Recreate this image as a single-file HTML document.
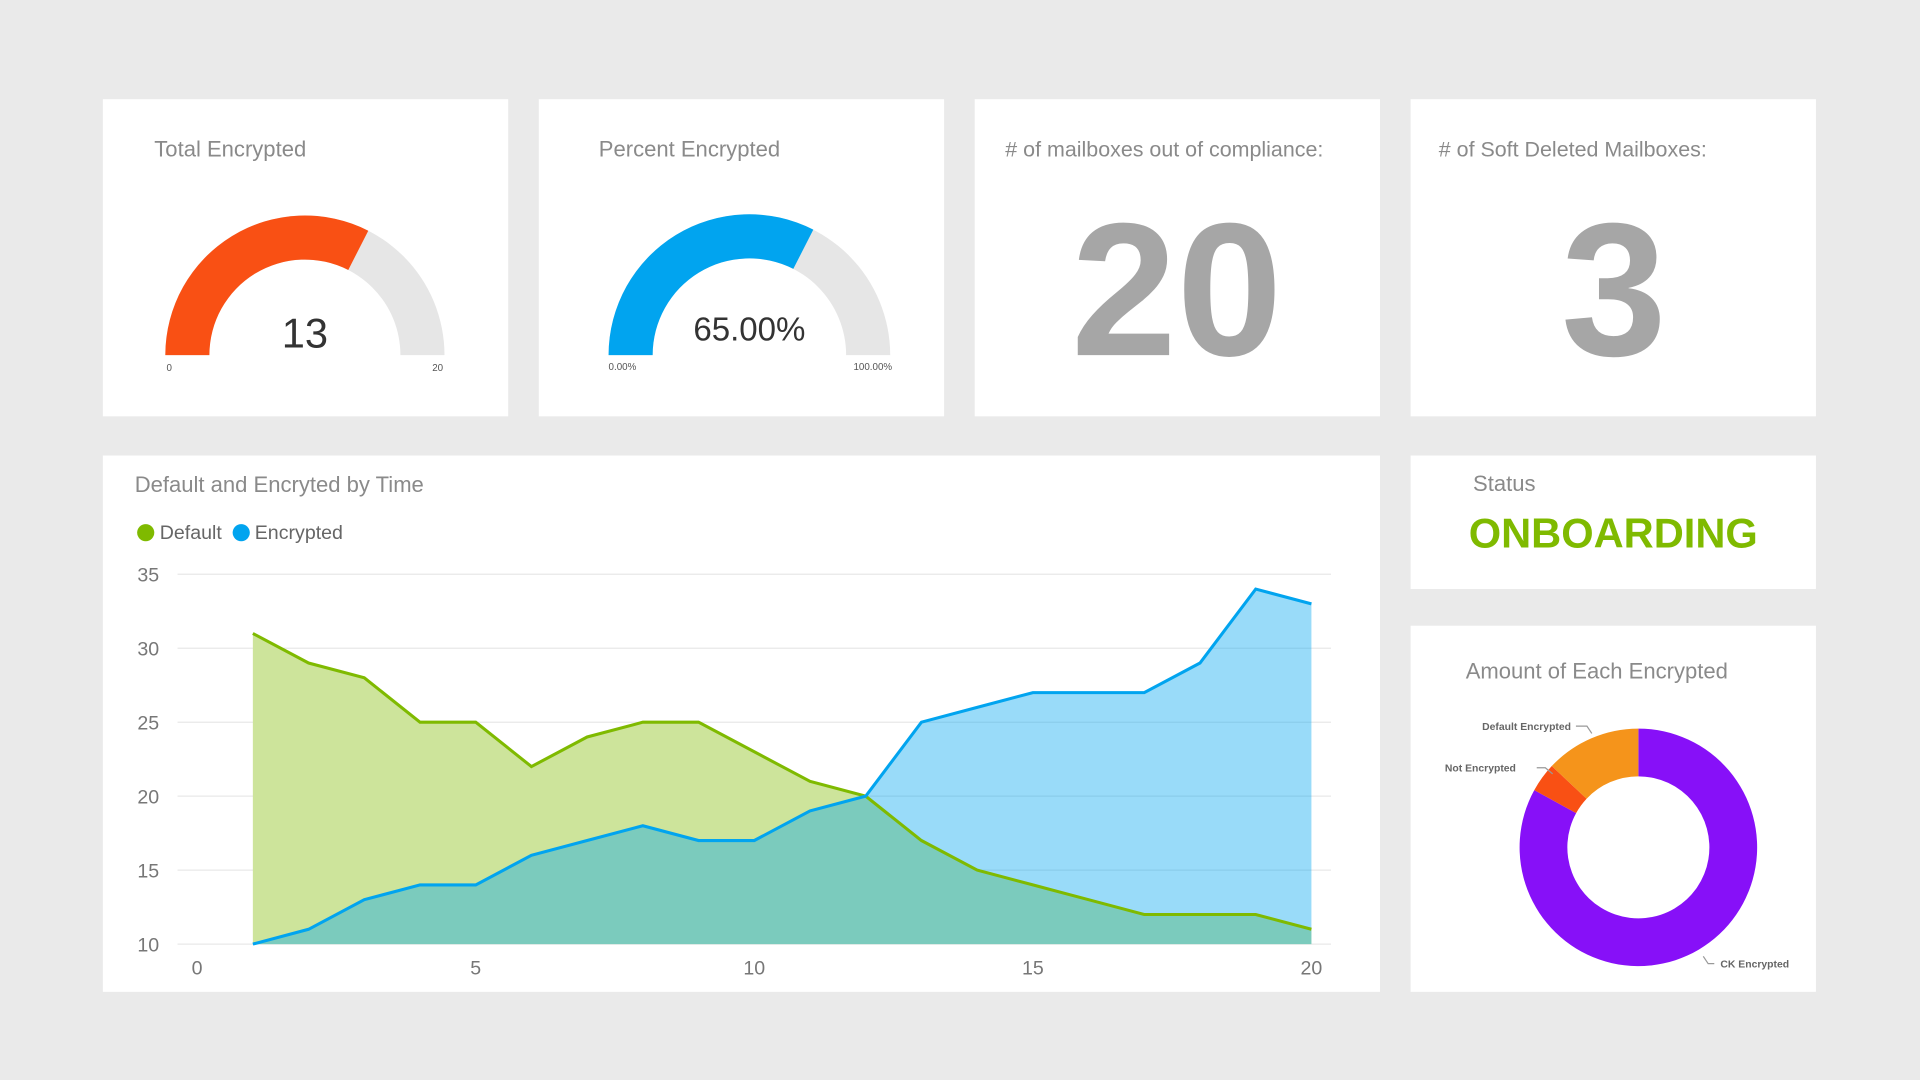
<!DOCTYPE html>
<html><head><meta charset="utf-8"><style>
html,body{margin:0;padding:0;width:1920px;height:1080px;overflow:hidden;background:#eaeaea;font-family:"Liberation Sans",sans-serif}
#root{position:absolute;left:0;top:0;width:1568px;height:882px;transform:scale(1.22449);transform-origin:0 0}
.card{position:absolute;background:#fff}
.t{position:absolute;color:#8a8a8a;font-size:18px;white-space:nowrap}
</style></head><body>
<div id="root">
<div class="card" style="left:84px;top:81px;width:331px;height:259px">
 <div class="t" style="left:42px;top:31px">Total Encrypted</div>
 <svg width="331" height="259" style="position:absolute;left:0;top:0"><g id="g1"></g>
 <text x="165" y="203" font-size="34" text-anchor="middle" fill="#333">13</text>
 <text x="52" y="222" font-size="8" fill="#555">0</text>
 <text x="269" y="222" font-size="8" fill="#555">20</text></svg>
</div>
<div class="card" style="left:440px;top:81px;width:331px;height:259px">
 <div class="t" style="left:49px;top:31px">Percent Encrypted</div>
 <svg width="331" height="259" style="position:absolute;left:0;top:0"><g id="g2"></g>
 <text x="172" y="197" font-size="27" text-anchor="middle" fill="#333">65.00%</text>
 <text x="57" y="221" font-size="8" fill="#555">0.00%</text>
 <text x="257" y="221" font-size="8" fill="#555">100.00%</text></svg>
</div>
<div class="card" style="left:796px;top:81px;width:331px;height:259px">
 <div class="t" style="left:25px;top:31px;font-size:17.5px"># of mailboxes out of compliance:</div>
 <svg width="331" height="259" style="position:absolute;left:0;top:0"><text x="165" y="209" font-size="155" font-weight="bold" fill="#a6a6a6" text-anchor="middle">20</text></svg>
</div>
<div class="card" style="left:1152px;top:81px;width:331px;height:259px">
 <div class="t" style="left:23px;top:31px;font-size:17.5px"># of Soft Deleted Mailboxes:</div>
 <svg width="331" height="259" style="position:absolute;left:0;top:0"><text x="166" y="209" font-size="155" font-weight="bold" fill="#a6a6a6" text-anchor="middle">3</text></svg>
</div>
<div class="card" style="left:84px;top:372px;width:1043px;height:438px">
 <div class="t" style="left:26px;top:14px">Default and Encryted by Time</div>
 <div style="position:absolute;left:28px;top:55px;font-size:16px;color:#666">
  <span><span style="display:inline-block;width:14px;height:14px;border-radius:7px;background:#7fba00;vertical-align:-2px"></span> Default</span>
  <span><span style="display:inline-block;width:14px;height:14px;border-radius:7px;background:#01a4ef;vertical-align:-2px;margin-left:4px"></span> Encrypted</span>
 </div>
 <svg id="chart" width="1043" height="438" style="position:absolute;left:0;top:0"></svg>
</div>
<div class="card" style="left:1152px;top:372px;width:331px;height:109px">
 <div class="t" style="left:51px;top:13px">Status</div>
 <div style="position:absolute;left:0;width:331px;text-align:center;top:45px;font-size:34px;font-weight:bold;color:#7fba00">ONBOARDING</div>
</div>
<div class="card" style="left:1152px;top:511px;width:331px;height:299px">
 <div class="t" style="left:45px;top:27px">Amount of Each Encrypted</div>
 <svg id="donut" width="331" height="299" style="position:absolute;left:0;top:0"></svg>
</div>
</div>
<script>
const NS='http://www.w3.org/2000/svg';
function mk(p,tag,at){const e=document.createElementNS(NS,tag);for(const k in at)e.setAttribute(k,at[k]);p.appendChild(e);return e;}
function arc(cx,cy,R,r,a0,a1){const p=(a,rr)=>[cx+rr*Math.cos(a),cy+rr*Math.sin(a)];const lg=(a1-a0)>Math.PI?1:0;
 const [x0,y0]=p(a0,R),[x1,y1]=p(a1,R),[x2,y2]=p(a1,r),[x3,y3]=p(a0,r);
 return `M${x0},${y0}A${R},${R} 0 ${lg} 1 ${x1},${y1}L${x2},${y2}A${r},${r} 0 ${lg} 0 ${x3},${y3}Z`;}
const gauge1Value=13, gauge1Max=20, gauge2Value=65, gauge2Max=100;
function gauge(id,cx,cy,R,r,v,max,col){const g=document.getElementById(id);const s=Math.PI,e=2*Math.PI,m=s+(v/max)*Math.PI;
 const bg=mk(g,'path',{d:arc(cx,cy,R,r,s,e),fill:'#e6e6e6'});
 
 
 const fg=mk(g,'path',{d:arc(cx,cy,R,r,s,m),fill:col});
 
 }
gauge('g1',165,209,114,78,gauge1Value,gauge1Max,'#f95014');
gauge('g2',172,209,115,79,gauge2Value,gauge2Max,'#01a4ef');
const xValues=[1,2,3,4,5,6,7,8,9,10,11,12,13,14,15,16,17,18,19,20];
const defaultValues=[31,29,28,25,25,22,24,25,25,23,21,20,17,15,14,13,12,12,12,11];
const encryptedValues=[10,11,13,14,14,16,17,18,17,17,19,20,25,26,27,27,27,29,34,33];
const yTicks=[10,15,20,25,30,35];
const xTicks=[0,5,10,15,20];
const X=v=>77+v*45.5, Y=v=>399-(v-10)*12.08;
const svg=document.getElementById('chart');
yTicks.forEach(t=>{const l=mk(svg,'line',{x1:61,x2:1003,y1:Y(t),y2:Y(t),stroke:'#e8e8e8','stroke-width':1});
 
 
 const tx=mk(svg,'text',{x:46,y:Y(t)+6,'font-size':16,fill:'#777','text-anchor':'end'});tx.textContent=t;
 
 });
xTicks.forEach(t=>{const tx=mk(svg,'text',{x:X(t),y:424,'font-size':16,fill:'#777','text-anchor':'middle'});tx.textContent=t;
 
 });
function series(vals,fill,op,name){const pts=vals.map((v,i)=>X(xValues[i])+','+Y(v)).join(' ');
 const a=mk(svg,'polygon',{points:`${X(xValues[0])},${Y(10)} ${pts} ${X(xValues[xValues.length-1])},${Y(10)}`,fill:fill,'fill-opacity':op});
 
 
 return pts;}
const p1=series(defaultValues,'#cde49b',1,'default');
const p2=series(encryptedValues,'#01a4ef',0.4,'encrypted');
const l1=mk(svg,'polyline',{points:p1,fill:'none',stroke:'#7fba00','stroke-width':2.5});


const l2=mk(svg,'polyline',{points:p2,fill:'none',stroke:'#01a4ef','stroke-width':2.5});


const donutLabels=['CK Encrypted','Not Encrypted','Default Encrypted'];
const donutValues=[83,4,13];
const donutColors=['#8710f8','#f95014','#f5941b'];
const d=document.getElementById('donut');const cx=186,cy=181,R=97,r=58;
let tot=donutValues.reduce((a,b)=>a+b,0),a=-Math.PI/2;
donutValues.forEach((v,i)=>{const a1=a+v/tot*2*Math.PI;const p=mk(d,'path',{d:arc(cx,cy,R,r,a,a1),fill:donutColors[i]});
 
 a=a1;});
[['Default Encrypted',131,85,'M135,82 L144,82 L148,88'],['Not Encrypted',86,119,'M103,116 L110,116 L116,121'],['CK Encrypted',253,279,'M248,276 L243,276 L239,270']].forEach(([t,x,y,pd],i)=>{
 const tx=mk(d,'text',{x:x,y:y,'font-size':8.5,fill:'#666','font-weight':'bold','text-anchor':i==2?'start':'end'});tx.textContent=t;
 
 
 const ln=mk(d,'path',{d:pd,fill:'none',stroke:'#999','stroke-width':1});
 
 });
</script>
</body></html>
